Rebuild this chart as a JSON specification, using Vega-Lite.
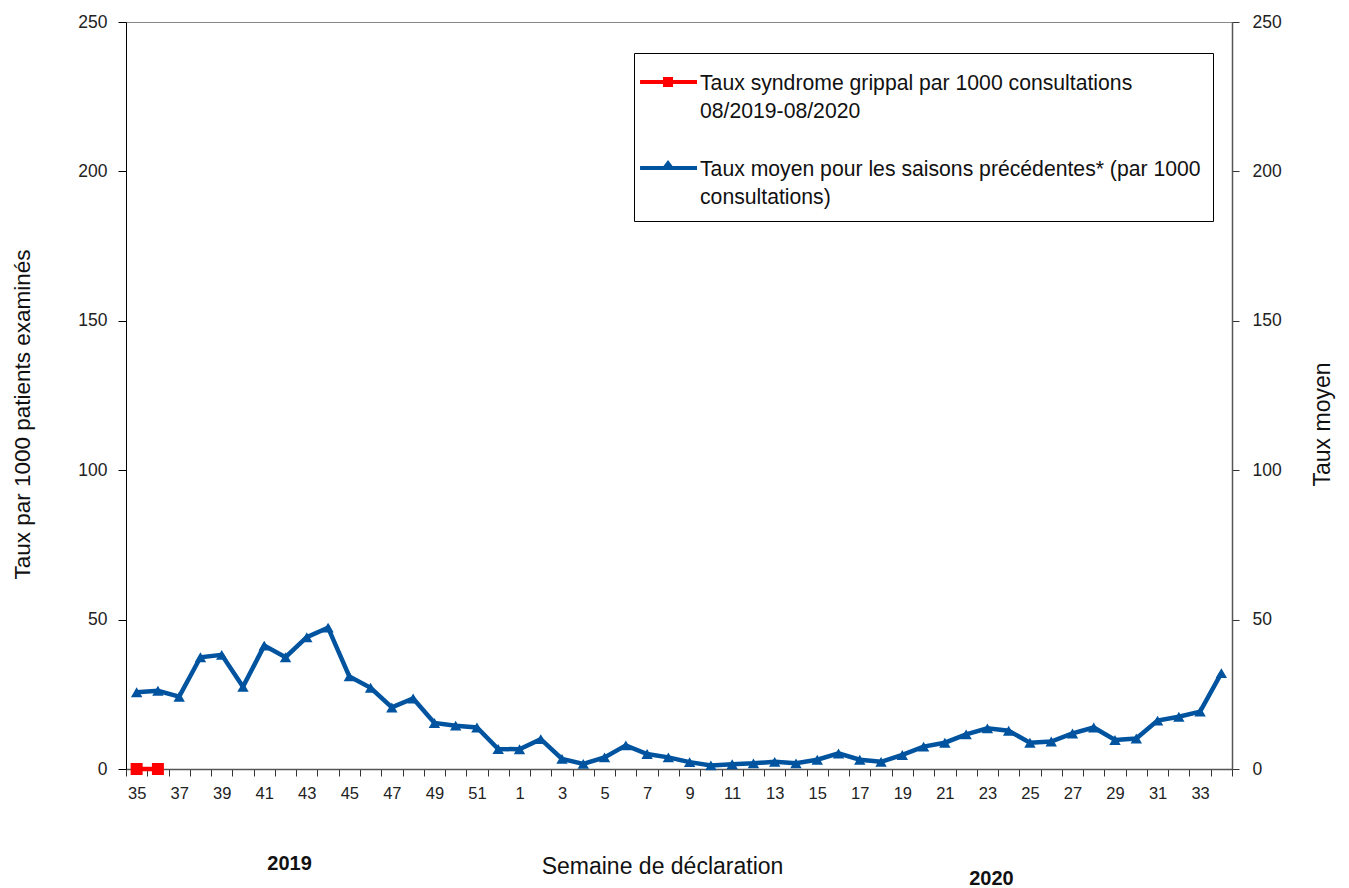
{
  "$schema": "https://vega.github.io/schema/vega-lite/v6.json",
  "width": 1106,
  "height": 747,
  "autosize": {"type": "none"},
  "padding": {"left": 126, "top": 22, "right": 117, "bottom": 119},
  "background": "white",
  "config": {
    "view": {"stroke": "#888888", "strokeWidth": 1},
    "font": "Liberation Sans, Arial, sans-serif",
    "axis": {"grid": false, "labelColor": "#222222", "titleColor": "#111111", "labelFont": "Liberation Sans, Arial, sans-serif", "titleFont": "Liberation Sans, Arial, sans-serif"},
    "legend": {"labelFont": "Liberation Sans, Arial, sans-serif", "titleFont": "Liberation Sans, Arial, sans-serif"}
  },
  "datasets": {
    "d": [
      {"n": 1, "semaine": 35, "moyen": 25.7, "taux": 0},
      {"n": 2, "semaine": 36, "moyen": 26.2, "taux": 0},
      {"n": 3, "semaine": 37, "moyen": 24.2, "taux": null},
      {"n": 4, "semaine": 38, "moyen": 37.4, "taux": null},
      {"n": 5, "semaine": 39, "moyen": 38.2, "taux": null},
      {"n": 6, "semaine": 40, "moyen": 27.5, "taux": null},
      {"n": 7, "semaine": 41, "moyen": 41.3, "taux": null},
      {"n": 8, "semaine": 42, "moyen": 37.4, "taux": null},
      {"n": 9, "semaine": 43, "moyen": 44.1, "taux": null},
      {"n": 10, "semaine": 44, "moyen": 47.3, "taux": null},
      {"n": 11, "semaine": 45, "moyen": 31.0, "taux": null},
      {"n": 12, "semaine": 46, "moyen": 27.2, "taux": null},
      {"n": 13, "semaine": 47, "moyen": 20.6, "taux": null},
      {"n": 14, "semaine": 48, "moyen": 23.6, "taux": null},
      {"n": 15, "semaine": 49, "moyen": 15.4, "taux": null},
      {"n": 16, "semaine": 50, "moyen": 14.5, "taux": null},
      {"n": 17, "semaine": 51, "moyen": 13.9, "taux": null},
      {"n": 18, "semaine": 52, "moyen": 6.7, "taux": null},
      {"n": 19, "semaine": 1, "moyen": 6.6, "taux": null},
      {"n": 20, "semaine": 2, "moyen": 10.0, "taux": null},
      {"n": 21, "semaine": 3, "moyen": 3.4, "taux": null},
      {"n": 22, "semaine": 4, "moyen": 1.7, "taux": null},
      {"n": 23, "semaine": 5, "moyen": 3.9, "taux": null},
      {"n": 24, "semaine": 6, "moyen": 7.9, "taux": null},
      {"n": 25, "semaine": 7, "moyen": 5.0, "taux": null},
      {"n": 26, "semaine": 8, "moyen": 3.9, "taux": null},
      {"n": 27, "semaine": 9, "moyen": 2.3, "taux": null},
      {"n": 28, "semaine": 10, "moyen": 1.2, "taux": null},
      {"n": 29, "semaine": 11, "moyen": 1.6, "taux": null},
      {"n": 30, "semaine": 12, "moyen": 1.9, "taux": null},
      {"n": 31, "semaine": 13, "moyen": 2.4, "taux": null},
      {"n": 32, "semaine": 14, "moyen": 1.9, "taux": null},
      {"n": 33, "semaine": 15, "moyen": 3.1, "taux": null},
      {"n": 34, "semaine": 16, "moyen": 5.2, "taux": null},
      {"n": 35, "semaine": 17, "moyen": 3.1, "taux": null},
      {"n": 36, "semaine": 18, "moyen": 2.4, "taux": null},
      {"n": 37, "semaine": 19, "moyen": 4.7, "taux": null},
      {"n": 38, "semaine": 20, "moyen": 7.5, "taux": null},
      {"n": 39, "semaine": 21, "moyen": 8.8, "taux": null},
      {"n": 40, "semaine": 22, "moyen": 11.6, "taux": null},
      {"n": 41, "semaine": 23, "moyen": 13.6, "taux": null},
      {"n": 42, "semaine": 24, "moyen": 12.8, "taux": null},
      {"n": 43, "semaine": 25, "moyen": 8.8, "taux": null},
      {"n": 44, "semaine": 26, "moyen": 9.2, "taux": null},
      {"n": 45, "semaine": 27, "moyen": 11.9, "taux": null},
      {"n": 46, "semaine": 28, "moyen": 13.9, "taux": null},
      {"n": 47, "semaine": 29, "moyen": 9.7, "taux": null},
      {"n": 48, "semaine": 30, "moyen": 10.2, "taux": null},
      {"n": 49, "semaine": 31, "moyen": 16.2, "taux": null},
      {"n": 50, "semaine": 32, "moyen": 17.5, "taux": null},
      {"n": 51, "semaine": 33, "moyen": 19.2, "taux": null},
      {"n": 52, "semaine": 34, "moyen": 32.1, "taux": null}
    ]
  },
  "data": {"name": "d"},
  "layer": [
    {
      "layer": [
        {
          "transform": [
            {"fold": ["taux", "moyen"], "as": ["serie", "valeur"]},
            {"filter": "datum.valeur != null"}
          ],
          "mark": {"type": "line", "strokeWidth": 4.5},
          "encoding": {
            "x": {
              "field": "semaine",
              "type": "ordinal",
              "sort": {"field": "n", "op": "min"},
              "scale": {"type": "band", "paddingInner": 0, "paddingOuter": 0},
              "axis": {
                "orient": "bottom",
                "title": "Semaine de déclaration",
                "labelExpr": "datum.value % 2 == 1 ? datum.label : ''",
                "tickBand": "extent",
                "tickSize": 7,
                "labelPadding": 9,
                "labelFontSize": 16.5,
                "labelAngle": 0,
                "domainColor": "#555555",
                "domainWidth": 1.5,
                "tickColor": "#333333",
                "titleFontSize": 23,
                "titleFontWeight": "normal",
                "titleX": 536,
                "titleY": 86,
                "titleBaseline": "top",
                "titleAlign": "center"
              }
            },
            "y": {
              "field": "valeur",
              "type": "quantitative",
              "scale": {"domain": [0, 250], "nice": false},
              "axis": {
                "title": "Taux par 1000 patients examinés",
                "values": [0, 50, 100, 150, 200, 250],
                "tickSize": 8,
                "labelPadding": 11,
                "labelFontSize": 17.5,
                "domainColor": "#000000",
                "tickColor": "#000000",
                "titleFontSize": 22.5,
                "titleFontWeight": "normal",
                "titleAngle": -90,
                "titleX": -104,
                "titleY": 392,
                "titleBaseline": "middle",
                "titleAlign": "center"
              }
            },
            "color": {
              "field": "serie",
              "type": "nominal",
              "scale": {"domain": ["taux", "moyen"], "range": ["#ff0000", "#00539f"]},
              "legend": {
                "title": null,
                "orient": "none",
                "legendX": 508,
                "legendY": 31,
                "padding": 12,
                "strokeColor": "#000000",
                "fillColor": "#ffffff",
                "labelFontSize": 21.2,
                "labelColor": "#111111",
                "labelLimit": 700,
                "labelBaseline": "top",
                "labelOffset": 20,
                "rowPadding": 28,
                "symbolSize": 1156,
                "labelExpr": "datum.value == 'taux' ? ['Taux syndrome grippal par 1000 consultations', '08/2019-08/2020'] : ['Taux moyen pour les saisons précédentes* (par 1000', 'consultations)']",
                "encode": {
                  "symbols": {
                    "update": {
                      "shape": {"signal": "datum.value == 'taux' ? 'M-1.35,-0.118H0V-0.294H0.59V-0.118H2V0.118H0.59V0.294H0V0.118H-1.35Z' : 'M-1.35,-0.118H0.03L0.295,-0.47L0.56,-0.118H2V0.118H-1.35Z'"},
                      "fill": {"signal": "datum.value == 'taux' ? '#ff0000' : '#00539f'"},
                      "stroke": {"value": "transparent"},
                      "strokeWidth": {"value": 0},
                      "opacity": {"value": 1}
                    }
                  },
                  "labels": {"update": {"dy": {"value": -9}, "lineHeight": {"value": 28}}}
                }
              }
            },
            "order": {"field": "n", "type": "quantitative"}
          }
        },
        {
          "transform": [
            {"fold": ["taux", "moyen"], "as": ["serie", "valeur"]},
            {"filter": "datum.serie == 'moyen' && datum.valeur != null"}
          ],
          "mark": {"type": "point", "shape": "triangle-up", "filled": true, "size": 130, "color": "#00539f", "opacity": 1},
          "encoding": {
            "x": {"field": "semaine", "type": "ordinal", "sort": {"field": "n", "op": "min"}},
            "y": {"field": "valeur", "type": "quantitative", "scale": {"domain": [0, 250], "nice": false}}
          }
        },
        {
          "transform": [
            {"fold": ["taux", "moyen"], "as": ["serie", "valeur"]},
            {"filter": "datum.serie == 'taux' && datum.valeur != null"}
          ],
          "mark": {"type": "point", "shape": "square", "filled": true, "size": 144, "color": "#ff0000", "opacity": 1},
          "encoding": {
            "x": {"field": "semaine", "type": "ordinal", "sort": {"field": "n", "op": "min"}},
            "y": {"field": "valeur", "type": "quantitative", "scale": {"domain": [0, 250], "nice": false}}
          }
        }
      ]
    },
    {
      "mark": {"type": "point", "opacity": 0},
      "encoding": {
        "x": {
          "field": "semaine",
          "type": "ordinal",
          "sort": {"field": "n", "op": "min"},
          "axis": {
            "orient": "bottom",
            "title": null,
            "values": [42, 23],
            "labelExpr": "datum.value == 42 ? '2019' : ['', '2020']",
            "labelLineHeight": 15,
            "domain": false,
            "ticks": false,
            "labelPadding": 84,
            "labelFontSize": 20,
            "labelFontWeight": "bold",
            "labelColor": "#111111",
            "labelOffset": 4,
            "labelAngle": 0,
            "labelBaseline": "top"
          }
        },
        "y": {
          "field": "moyen",
          "type": "quantitative",
          "scale": {"domain": [0, 250], "nice": false},
          "axis": {
            "orient": "right",
            "title": "Taux moyen",
            "values": [0, 50, 100, 150, 200, 250],
            "tickSize": 7,
            "labelPadding": 13,
            "labelFontSize": 17.5,
            "domainColor": "#555555",
            "domainWidth": 1.5,
            "tickColor": "#333333",
            "titleFontSize": 23,
            "titleFontWeight": "normal",
            "titleAngle": -90,
            "titleX": 90,
            "titleY": 402,
            "titleBaseline": "middle",
            "titleAlign": "center"
          }
        }
      }
    }
  ],
  "resolve": {"scale": {"y": "independent"}, "axis": {"x": "independent"}}
}
